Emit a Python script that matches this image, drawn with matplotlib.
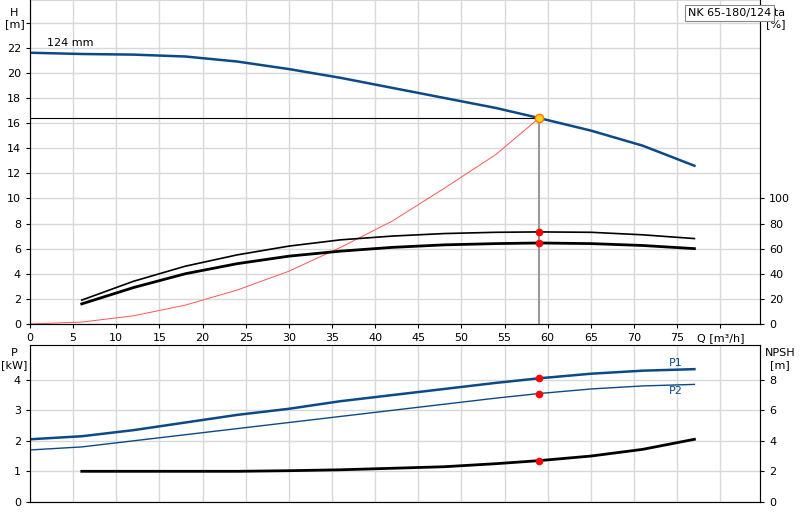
import matplotlib
matplotlib.use("Agg")
import matplotlib.pyplot as plt

q = [0, 6, 12, 18, 24, 30, 36, 42, 48, 54, 59, 65, 71, 77]
head = [21.6, 21.5, 21.45, 21.3, 20.9, 20.3, 19.6, 18.8, 18.0, 17.2, 16.4, 15.4, 14.2, 12.6]
q_sys = [0, 6, 12, 18, 24, 30, 36, 42, 48, 54, 59]
h_sys = [0, 0.15, 0.65, 1.5, 2.7, 4.2, 6.1, 8.2, 10.8, 13.5, 16.4]
q_e = [6, 12, 18, 24, 30, 36, 42, 48, 54, 59, 65, 71, 77]
eta_p = [19, 34, 46, 55, 62, 67, 70, 72, 73, 73.3, 73, 71, 68]
eta_t = [16, 29, 40, 48, 54, 58, 61, 63, 64, 64.5, 64, 62.5, 60]
p1 = [2.05, 2.15, 2.35, 2.6, 2.85, 3.05, 3.3, 3.5, 3.7, 3.9, 4.05, 4.2, 4.3, 4.35]
p2 = [1.7, 1.8, 2.0, 2.2, 2.4, 2.6, 2.8, 3.0, 3.2, 3.4, 3.55, 3.7, 3.8, 3.85]
npsh = [2.0, 2.0, 2.0, 2.0, 2.04, 2.1, 2.2, 2.3, 2.5, 2.7, 3.0, 3.44, 4.1]
q_duty = 59
h_duty = 16.4

blue = "#0b4a86"
fig = plt.figure(figsize=(8, 5.2), dpi=100)
ax = fig.add_axes([0.0375, 0.377, 0.9125, 0.623])
axb = fig.add_axes([0.0375, 0.035, 0.9125, 0.302])
XMAX = 84.6
for a in (ax, axb):
    a.set_xlim(0, XMAX)
    a.set_xticks(range(0, 85, 5))
    a.grid(True, color="#d8d8d8", lw=1)
    a.set_axisbelow(True)
    a.tick_params(labelsize=8, length=3, direction="out")
    a.spines["top"].set_color("#d8d8d8")
    for s in ("left", "right", "bottom"):
        a.spines[s].set_color("#555")

ax.set_ylim(0, 25.8)
ax.set_yticks(range(0, 25, 2))
ax.set_yticklabels([str(v) if v <= 22 else "" for v in range(0, 25, 2)])
ax.set_xticklabels([str(v) for v in range(0, 80, 5)] + ["Q [m³/h]"])
ax.plot(q, head, color=blue, lw=1.8)
ax.plot(q_sys, h_sys, color="#ff5555", lw=0.7)
ax.plot(q_e, [e / 10 for e in eta_p], color="black", lw=1.2)
ax.plot(q_e, [e / 10 for e in eta_t], color="black", lw=2)
ax.plot([0, q_duty], [h_duty, h_duty], color="black", lw=0.8)
ax.plot([q_duty, q_duty], [0, h_duty], color="#999", lw=1.5)
ax.plot([q_duty], [h_duty], "o", ms=6, mfc="#ffd21a", mec="#ff7a00")
ax.plot([q_duty] * 2, [eta_p[9] / 10, eta_t[9] / 10], "o", ms=4.5, color="red")
ax.text(2, 22.1, "124 mm", fontsize=8)
axr = ax.twinx()
axr.set_ylim(0, 258)
axr.set_yticks(range(0, 101, 20))
axr.tick_params(labelsize=8, length=3)
axr.spines["top"].set_visible(False)
fig.text(0.018, 0.985, "H\n[m]", fontsize=8, ha="center", va="top")
fig.text(0.97, 0.985, "eta\n[%]", fontsize=8, ha="center", va="top")
fig.text(0.86, 0.985, "NK 65-180/124", fontsize=8, va="top",
         bbox=dict(fc="white", ec="#888", lw=0.8, pad=2))

axb.set_ylim(0, 5.15)
axb.set_yticks(range(0, 5))
axb.set_xticklabels([])
axb.tick_params(axis="x", length=0)
axb.plot(q, p1, color=blue, lw=1.8)
axb.plot(q, p2, color=blue, lw=1.0)
axb.plot(q_e, [n / 2 for n in npsh], color="black", lw=2)
axb.plot([q_duty] * 3, [p1[10], p2[10], npsh[9] / 2], "o", ms=4.5, color="red")
axb.text(74, 4.45, "P1", fontsize=8, color=blue)
axb.text(74, 3.55, "P2", fontsize=8, color=blue)
axbr = axb.twinx()
axbr.set_ylim(0, 10.3)
axbr.set_yticks(range(0, 10, 2))
axbr.tick_params(labelsize=8, length=3)
fig.text(0.018, 0.33, "P\n[kW]", fontsize=8, ha="center", va="top")
fig.text(0.975, 0.33, "NPSH\n[m]", fontsize=8, ha="center", va="top")

fig.savefig("out.png", dpi=100)
